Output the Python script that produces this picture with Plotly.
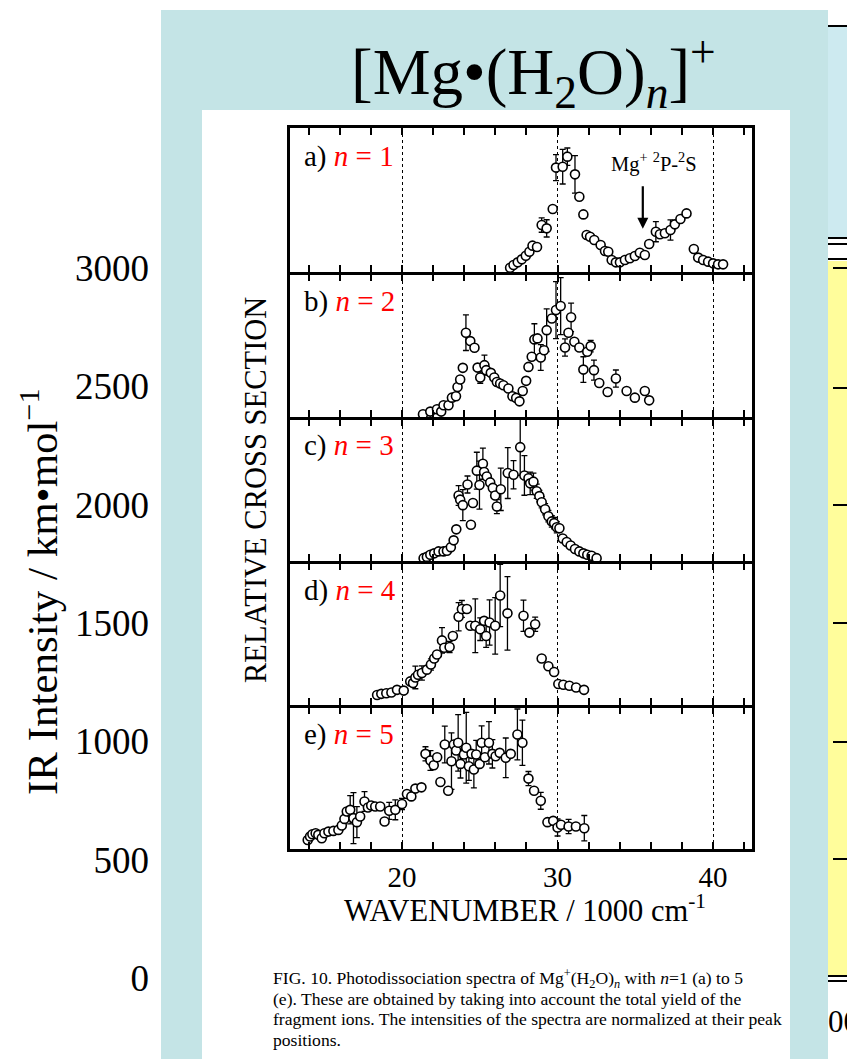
import plotly.graph_objects as go

OFF = 8  # default body margin of the html page
W, H = 855 - OFF, 1059 - OFF  # figure fills the window from the body margin on
SERIF = "Liberation Serif, Times New Roman, serif"

# ---------------- data (wavenumber in 1000 cm^-1, relative cross section) ----------------
a_x = [26.95, 27.17, 27.44, 27.70, 27.96, 28.19, 28.39, 28.68, 28.98, 29.30, 29.69, 29.90, 30.33, 30.63,
       31.12, 31.40, 31.66, 31.87, 32.09, 32.36, 32.77, 33.05, 33.26, 33.48, 33.75, 34.01, 34.33, 34.65,
       34.97, 35.29, 35.61, 35.89, 36.32, 36.58, 36.90, 37.26, 37.54, 37.90, 38.29, 38.76, 39.04, 39.36,
       39.68, 40.00, 40.32, 40.64]
a_y = [0.030, 0.049, 0.067, 0.088, 0.113, 0.141, 0.183, 0.174, 0.326, 0.303, 0.438, 0.725, 0.731, 0.801,
       0.678, 0.523, 0.400, 0.257, 0.245, 0.222, 0.188, 0.146, 0.141, 0.083, 0.067, 0.067, 0.083, 0.095,
       0.111, 0.134, 0.118, 0.194, 0.280, 0.262, 0.269, 0.292, 0.331, 0.368, 0.407, 0.160, 0.100, 0.083,
       0.072, 0.060, 0.053, 0.053]
a_err = [0, 0, 0, 0, 0, 0, 0, 0, 0.05, 0.06, 0, 0.09, 0.12, 0.06,
         0.13, 0, 0, 0, 0, 0, 0, 0, 0, 0, 0, 0, 0, 0,
         0, 0, 0, 0, 0.07, 0, 0, 0.07, 0, 0, 0, 0, 0, 0,
         0, 0, 0, 0]

b_x = [21.35, 21.82, 22.25, 22.52, 22.67, 22.99, 23.21, 23.47, 23.57, 23.74, 23.91, 24.11, 24.39, 24.66,
       24.86, 25.03, 25.30, 25.41, 25.71, 25.93, 26.10, 26.31, 26.52, 26.84, 27.10, 27.34, 27.55, 27.76,
       27.98, 28.13, 28.34, 28.51, 28.71, 28.92, 29.13, 29.30, 29.63, 29.90, 30.20, 30.48, 30.70, 30.87,
       31.08, 31.40, 31.66, 31.91, 32.13, 32.34, 32.68, 33.22, 33.75, 34.44, 34.97, 35.61, 35.89]
b_y = [0.019, 0.038, 0.054, 0.038, 0.082, 0.082, 0.136, 0.146, 0.211, 0.263, 0.345, 0.592, 0.533, 0.486,
       0.347, 0.277, 0.364, 0.329, 0.310, 0.277, 0.246, 0.235, 0.223, 0.200, 0.146, 0.134, 0.110, 0.183,
       0.254, 0.352, 0.423, 0.545, 0.552, 0.418, 0.469, 0.610, 0.692, 0.751, 0.779, 0.488, 0.592, 0.700,
       0.528, 0.488, 0.333, 0.458, 0.498, 0.329, 0.239, 0.176, 0.270, 0.183, 0.136, 0.183, 0.117]
b_err = [0, 0, 0, 0, 0, 0, 0, 0, 0, 0, 0, 0.125, 0, 0,
         0, 0.04, 0.07, 0, 0, 0, 0, 0, 0, 0, 0, 0, 0, 0,
         0, 0, 0, 0.11, 0, 0.09, 0, 0.15, 0, 0.20, 0.20, 0.06, 0, 0.10,
         0, 0, 0.09, 0, 0.04, 0.07, 0, 0, 0.06, 0, 0, 0, 0]

c_x = [21.39, 21.60, 21.82, 22.07, 22.35, 22.67, 22.89, 23.14, 23.32, 23.49, 23.64, 23.74, 23.91, 24.21,
       24.43, 24.56, 24.81, 24.98, 25.20, 25.28, 25.45, 25.67, 25.84, 25.99, 26.10, 26.35, 26.80, 27.17,
       27.60, 27.87, 28.13, 28.24, 28.45, 28.66, 28.83, 28.98, 29.20, 29.41, 29.63, 29.78, 29.95, 30.12,
       30.33, 30.59, 30.84, 31.12, 31.40, 31.66, 31.91, 32.19, 32.51]
c_y = [0.020, 0.029, 0.044, 0.054, 0.068, 0.068, 0.073, 0.098, 0.146, 0.224, 0.463, 0.434, 0.395, 0.541,
       0.256, 0.410, 0.639, 0.537, 0.688, 0.629, 0.598, 0.556, 0.517, 0.463, 0.385, 0.507, 0.622, 0.610,
       0.805, 0.605, 0.585, 0.549, 0.561, 0.493, 0.459, 0.415, 0.366, 0.317, 0.280, 0.268, 0.239, 0.232,
       0.159, 0.134, 0.110, 0.085, 0.068, 0.054, 0.044, 0.037, 0.020]
c_err = [0, 0, 0, 0, 0, 0, 0, 0, 0, 0, 0.07, 0, 0.11, 0.06,
         0, 0, 0.13, 0.17, 0.11, 0, 0, 0, 0, 0, 0.05, 0.15, 0.18, 0.10,
         0.20, 0.14, 0, 0.08, 0.06, 0.05, 0.04, 0.04, 0.04, 0.04, 0.04, 0.04, 0.04, 0,
         0, 0, 0, 0, 0, 0, 0, 0, 0]

d_x = [18.40, 18.67, 18.99, 19.32, 19.68, 20.11, 20.53, 20.71, 20.86, 21.03, 21.28, 21.60, 21.86, 22.07,
       22.25, 22.57, 22.72, 23.06, 23.27, 23.64, 23.85, 24.17, 24.39, 24.71, 25.03, 25.28, 25.41, 25.63,
       25.99, 26.31, 26.78, 27.81, 28.19, 28.56, 28.98, 29.41, 29.78, 30.05, 30.37, 30.76, 31.19, 31.70]
d_y = [0.071, 0.079, 0.083, 0.088, 0.107, 0.102, 0.167, 0.155, 0.195, 0.214, 0.226, 0.250, 0.286, 0.329,
       0.357, 0.457, 0.405, 0.410, 0.488, 0.624, 0.679, 0.679, 0.560, 0.560, 0.536, 0.595, 0.488, 0.583,
       0.560, 0.774, 0.648, 0.631, 0.512, 0.571, 0.329, 0.274, 0.233, 0.148, 0.143, 0.136, 0.124, 0.107]
d_err = [0, 0, 0, 0, 0, 0, 0, 0, 0.08, 0, 0.05, 0, 0.04, 0,
         0, 0.09, 0, 0.04, 0, 0.10, 0.06, 0, 0, 0.19, 0.08, 0, 0.08, 0.16,
         0.20, 0.22, 0.26, 0.11, 0, 0.05, 0, 0, 0, 0, 0, 0, 0, 0]

e_x = [13.94, 14.09, 14.24, 14.45, 14.62, 14.84, 15.01, 15.27, 15.59, 15.91, 16.13, 16.30, 16.45, 16.67,
       16.88, 17.10, 17.31, 17.59, 17.81, 18.02, 18.28, 18.60, 18.88, 19.18, 19.57, 20.00, 20.32, 20.60,
       20.86, 21.25, 21.51, 21.83, 22.04, 22.26, 22.47, 22.75, 22.97, 23.18, 23.33, 23.48, 23.61, 23.76,
       23.98, 24.13, 24.30, 24.47, 24.62, 24.77, 24.99, 25.12, 25.33, 25.59, 25.81, 26.02, 26.28, 26.67,
       26.99, 27.42, 27.74, 28.13, 28.49, 28.92, 29.35, 29.72, 30.00, 30.22, 30.71, 31.18, 31.72]
e_y = [0.064, 0.088, 0.104, 0.111, 0.100, 0.076, 0.111, 0.123, 0.128, 0.135, 0.166, 0.213, 0.265, 0.277,
       0.218, 0.190, 0.230, 0.336, 0.294, 0.308, 0.301, 0.301, 0.194, 0.270, 0.277, 0.318, 0.389, 0.372,
       0.427, 0.436, 0.673, 0.626, 0.592, 0.649, 0.474, 0.739, 0.412, 0.621, 0.739, 0.697, 0.751, 0.602,
       0.668, 0.716, 0.585, 0.673, 0.562, 0.668, 0.602, 0.751, 0.649, 0.751, 0.673, 0.656, 0.680, 0.645,
       0.673, 0.810, 0.751, 0.498, 0.412, 0.341, 0.190, 0.199, 0.152, 0.171, 0.159, 0.159, 0.147]
e_err = [0, 0, 0, 0, 0, 0, 0, 0, 0, 0, 0, 0, 0, 0.10,
         0.18, 0.11, 0, 0.07, 0, 0, 0, 0, 0, 0.06, 0.07, 0.04, 0, 0,
         0, 0, 0.05, 0.07, 0, 0, 0, 0.13, 0, 0.20, 0, 0, 0.20, 0.10,
         0, 0.25, 0.10, 0, 0.13, 0.10, 0, 0.12, 0, 0.15, 0.10, 0, 0, 0.14,
         0, 0.18, 0.16, 0.05, 0, 0.06, 0, 0, 0.06, 0, 0.05, 0, 0.09]

panel_letters = ["a)", "b)", "c)", "d)", "e)"]
panel_n = ["1", "2", "3", "4", "5"]

# outer (background slide) axis
ir_ticks = [0, 500, 1000, 1500, 2000, 2500, 3000]

# ---------------- layout helpers (page pixel -> paper fraction) ----------------
def xp(px):
    return (px - OFF) / W

def yp(py):
    return 1 - (py - OFF) / H

LW = 2.6
panel_px = [(128, 272), (272, 417), (417, 561), (561, 705), (705, 849)]
X_LEFT, X_RIGHT = 290, 752
XRANGE = [12.8, 42.5]

series = [(a_x, a_y, a_err), (b_x, b_y, b_err), (c_x, c_y, c_err), (d_x, d_y, d_err), (e_x, e_y, e_err)]

fig = go.Figure()
layout = {}
annotations = []

for i, (xs, ys, es) in enumerate(series):
    k = i + 1
    xa = "x" if k == 1 else f"x{k}"
    ya = "y" if k == 1 else f"y{k}"
    fig.add_trace(go.Scatter(
        x=xs, y=ys, mode="markers", xaxis=xa, yaxis=ya, showlegend=False,
        marker=dict(symbol="circle", size=9, color="white", line=dict(color="black", width=1.6)),
        error_y=dict(type="data", array=es, visible=True, color="black", thickness=1.3, width=3),
    ))
    top, bot = panel_px[i]
    if i > 0:
        top = top + LW  # let the shared border lines coincide
    last = (k == 5)
    layout["xaxis" if k == 1 else f"xaxis{k}"] = dict(
        domain=[xp(X_LEFT), xp(X_RIGHT)], anchor=ya, range=XRANGE,
        tickmode="linear", tick0=0, dtick=10,
        ticks="inside", ticklen=7, tickwidth=1.5, tickcolor="black",
        minor=dict(tickmode="linear", tick0=0, dtick=2, ticks="inside", ticklen=7,
                   tickwidth=1.5, tickcolor="black", showgrid=False),
        showgrid=True, gridcolor="black", griddash="dot", gridwidth=1,
        showline=True, linecolor="black", linewidth=LW, mirror="ticks",
        zeroline=False, showticklabels=last,
        tickfont=dict(family=SERIF, size=29, color="black"),
    )
    layout["yaxis" if k == 1 else f"yaxis{k}"] = dict(
        domain=[yp(bot), yp(top)], anchor=xa, range=[0, 1],
        showline=True, linecolor="black", linewidth=LW, mirror=True,
        showgrid=False, zeroline=False, showticklabels=False, ticks="",
    )
    annotations.append(dict(
        xref="paper", yref="paper", x=xp(302), y=yp(panel_px[i][0] + 29), xanchor="left", yanchor="middle",
        text=f"{panel_letters[i]} <span style='color:red'><i>n</i> = {panel_n[i]}</span>",
        showarrow=False, font=dict(family=SERIF, size=29, color="black"),
    ))

# outer slide axis (IR intensity): 3000 at page y=268, 0 at page y=978
f3000, f0 = yp(268), yp(978)
per = 3000 / (f3000 - f0)
ir_range = [0 - f0 * per, 3000 + (1 - f3000) * per]
fig.add_trace(go.Scatter(x=[None], y=[None], xaxis="x6", yaxis="y6", showlegend=False, hoverinfo="skip"))
layout["xaxis6"] = dict(domain=[xp(150), xp(154)], anchor="y6", visible=False, range=[0, 1])
layout["yaxis6"] = dict(domain=[0, 1], anchor="x6", range=ir_range, tickmode="array",
                        tickvals=ir_ticks, ticktext=[str(v) for v in ir_ticks],
                        showline=False, showgrid=False, zeroline=False, ticks="",
                        tickfont=dict(family=SERIF, size=37, color="black"))

shapes = [
    # blue slide panel
    dict(type="rect", xref="paper", yref="paper", x0=xp(161), x1=xp(828), y0=yp(10), y1=0,
         fillcolor="#C4E4E6", line=dict(width=0), layer="below"),
    # white inner figure
    dict(type="rect", xref="paper", yref="paper", x0=xp(202), x1=xp(790), y0=yp(110), y1=0,
         fillcolor="white", line=dict(width=0), layer="below"),
    # right strip: light blue header and yellow plot area
    dict(type="rect", xref="paper", yref="paper", x0=xp(828), x1=1, y0=yp(27), y1=yp(237),
         fillcolor="#CDEAF0", line=dict(width=0), layer="below"),
    dict(type="rect", xref="paper", yref="paper", x0=xp(828), x1=1, y0=yp(261), y1=yp(976),
         fillcolor="#FFFD9B", line=dict(width=0), layer="below"),
]
for yy in [26, 238, 244, 259, 976, 981]:
    shapes.append(dict(type="line", xref="paper", yref="paper", x0=xp(828), x1=1, y0=yp(yy), y1=yp(yy),
                       line=dict(color="black", width=2), layer="below"))
for yy in [268, 388, 505, 623, 742, 859]:
    shapes.append(dict(type="line", xref="paper", yref="paper", x0=xp(833), x1=1, y0=yp(yy), y1=yp(yy),
                       line=dict(color="black", width=2), layer="below"))

annotations += [
    dict(xref="paper", yref="paper", x=xp(533), y=yp(72), xanchor="center", yanchor="middle",
         text="[Mg•(H<sub>2</sub>O)<sub><i>n</i></sub>]<sup>+</sup>", showarrow=False,
         font=dict(family=SERIF, size=65, color="black")),
    dict(xref="paper", yref="paper", x=xp(39), y=yp(592), xanchor="center", yanchor="middle",
         text="IR Intensity / km•mol<sup>−1</sup>", textangle=-90, showarrow=False,
         font=dict(family=SERIF, size=43, color="black")),
    dict(xref="paper", yref="paper", x=xp(256), y=yp(490), xanchor="center", yanchor="middle",
         text="RELATIVE CROSS SECTION", textangle=-90, showarrow=False,
         font=dict(family=SERIF, size=30.5, color="black")),
    dict(xref="paper", yref="paper", x=xp(525), y=yp(908), xanchor="center", yanchor="middle",
         text="WAVENUMBER / 1000 cm<sup>-1</sup>", showarrow=False,
         font=dict(family=SERIF, size=30.5, color="black")),
    # arrow marking the Mg+ 2P-2S transition
    dict(xref="x", yref="y", x=35.48, y=0.30, ax=0, ay=-44, axref="pixel", ayref="pixel",
         text="", showarrow=True, arrowhead=2, arrowsize=1, arrowwidth=2.2, arrowcolor="black"),
    dict(xref="x", yref="y", x=36.2, y=0.76, xanchor="center", yanchor="middle",
         text="Mg<sup>+</sup> <sup>2</sup>P-<sup>2</sup>S", showarrow=False,
         font=dict(family=SERIF, size=20.5, color="black")),
    dict(xref="paper", yref="paper", x=xp(826), y=yp(1021), xanchor="left", yanchor="middle",
         text="00", showarrow=False, font=dict(family=SERIF, size=31, color="black")),
]

caption = [
    "FIG. 10. Photodissociation spectra of Mg<sup>+</sup>(H<sub>2</sub>O)<sub><i>n</i></sub> with <i>n</i>=1 (a) to 5",
    "(e). These are obtained by taking into account the total yield of the",
    "fragment ions. The intensities of the spectra are normalized at their peak",
    "positions.",
]
for j, line in enumerate(caption):
    annotations.append(dict(xref="paper", yref="paper", x=xp(271), y=yp(978 + 20.7 * j),
                            xanchor="left", yanchor="middle", text=line, showarrow=False,
                            font=dict(family=SERIF, size=17.6, color="black")))

fig.update_layout(
    width=W, height=H, margin=dict(l=0, r=0, t=0, b=0),
    paper_bgcolor="white", plot_bgcolor="rgba(0,0,0,0)",
    shapes=shapes, annotations=annotations, **layout,
)

fig.write_html("out.html")
